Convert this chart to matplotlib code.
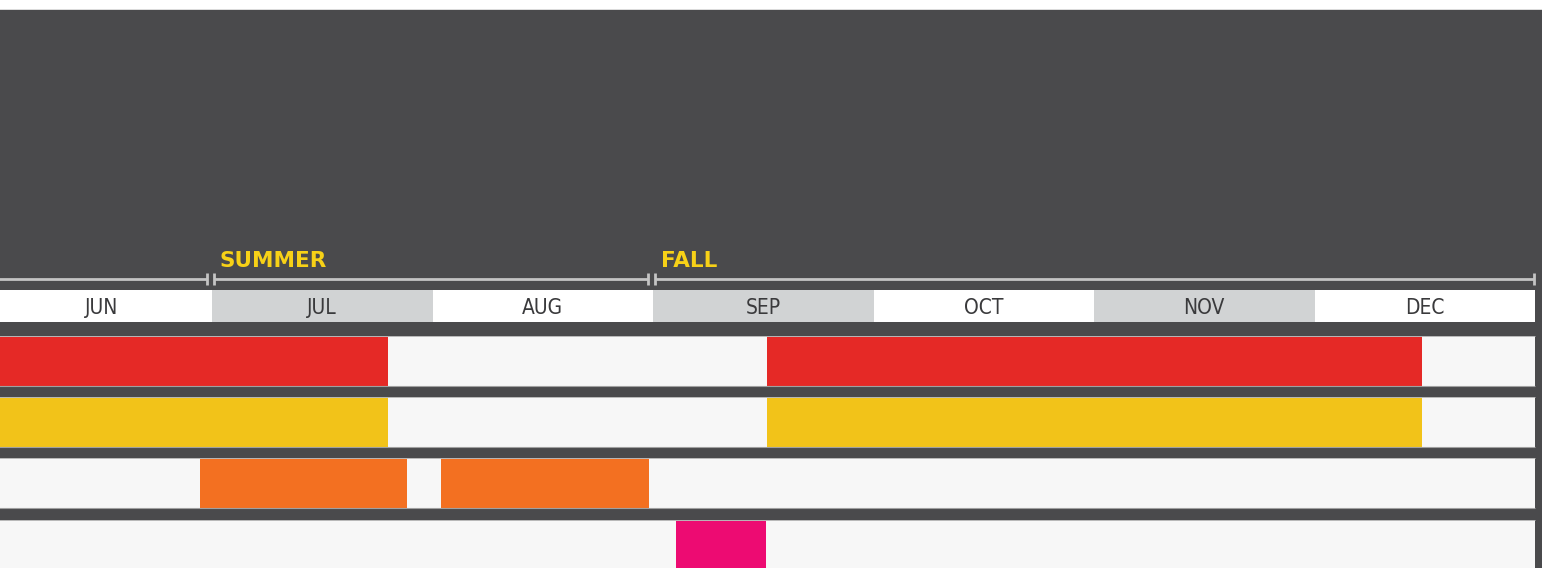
import matplotlib.pyplot as plt
from matplotlib.patches import Rectangle

# Months shown on the timeline (x unit = one month, 0 = start of June)
months = ['JUN', 'JUL', 'AUG', 'SEP', 'OCT', 'NOV', 'DEC']

# Season markers (label, start in month units)
seasons = ['SUMMER', 'FALL']
season_start = [0.995, 2.995]

# Bars per row: (start, length) in month units
row_red = [(0.0, 1.80), (3.517, 2.971)]
row_yellow = [(0.0, 1.80), (3.517, 2.971)]
row_orange = [(0.946, 0.938), (2.039, 0.943)]
row_pink = [(3.104, 0.409)]

rows = [row_red, row_yellow, row_orange, row_pink]
row_colors = ['#e52926', '#f2c319', '#f37021', '#ed0b72']

dark = '#4a4a4c'
light_gray = '#d1d3d4'
row_bg = '#f7f7f7'
line_gray = '#c4c4c4'
season_yellow = '#f7d117'

W, H = 1542, 568
fig = plt.figure(figsize=(W / 100, H / 100), dpi=100)
fig.patch.set_facecolor('white')
ax = fig.add_axes([0, 0, 1, 1])
ax.set_axis_off()

# one month = 220.5 px, June starts at -8.5 px
px = 220.5
x0 = -8.5
ax.set_xlim(-x0 / px, (W - x0) / px)
ax.set_ylim(H, 0)

# dark background (white strip on top)
ax.add_patch(Rectangle((-1, 10), 10, H, color=dark, zorder=0))

n = len(months)

# month band
for i, m in enumerate(months):
    fc = light_gray if i % 2 else 'white'
    ax.add_patch(Rectangle((i, 290), 1, 32, facecolor=fc, edgecolor='none', zorder=1))
    ax.text(i + 0.5, 308, m, ha='center', va='center', fontsize=15,
            family='DejaVu Sans', fontstretch='condensed', fontweight='medium',
            color='#3a3a3c', zorder=2)

# season line with double ticks
tick_gap = 3.5 / px
seg_start = 0 - 10 / px
for lab, s in zip(seasons, season_start):
    ax.plot([seg_start, s - tick_gap], [279, 279], color=line_gray, lw=2, solid_capstyle='butt')
    for xx in (s - tick_gap, s + tick_gap):
        ax.plot([xx, xx], [273, 285], color=line_gray, lw=2, solid_capstyle='butt')
    seg_start = s + tick_gap
    ax.text(s + 9 / px, 267, lab, ha='left', va='baseline', fontsize=15.5,
            fontweight='bold', family='DejaVu Sans', color=season_yellow)
ax.plot([seg_start, n - 1 / px], [279, 279], color=line_gray, lw=2, solid_capstyle='butt')
ax.plot([n - 1 / px, n - 1 / px], [273, 285], color=line_gray, lw=2, solid_capstyle='butt')

# rows
row_top = [336, 397, 458, 520]
row_h = 50
for top, bars, c in zip(row_top, rows, row_colors):
    ax.add_patch(Rectangle((-1, top), n + 1, row_h, facecolor=row_bg, edgecolor='none', zorder=1))
    ax.broken_barh(bars, (top, row_h), facecolors=c, zorder=2)
    ax.plot([-1, n], [top, top], color='#b8b8b8', lw=0.7, zorder=3, solid_capstyle='butt')
    ax.plot([-1, n], [top + row_h, top + row_h], color='#a0a0a0', lw=0.8, zorder=3,
            solid_capstyle='butt')

fig.savefig('out.png', dpi=100, facecolor=fig.get_facecolor())
